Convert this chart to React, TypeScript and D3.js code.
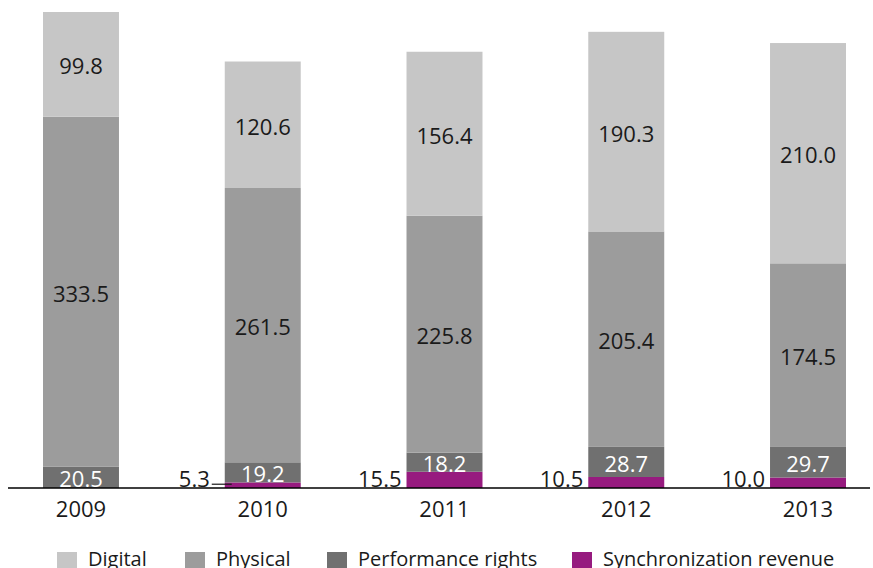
import React from "react";
import * as d3 from "d3";

const WIDTH = 873;
const HEIGHT = 568;
const BASE_Y = 488;
const TOP_Y = 12;

const years = ["2009", "2010", "2011", "2012", "2013"];
const sync = [0, 5.3, 15.5, 10.5, 10.0];
const performance = [20.5, 19.2, 18.2, 28.7, 29.7];
const physical = [333.5, 261.5, 225.8, 205.4, 174.5];
const digital = [99.8, 120.6, 156.4, 190.3, 210.0];

const seriesKeys = ["sync", "performance", "physical", "digital"];
const legendOrder = ["digital", "physical", "performance", "sync"];
const labels: Record<string, string> = {
  digital: "Digital",
  physical: "Physical",
  performance: "Performance rights",
  sync: "Synchronization revenue",
};
const colors: Record<string, string> = {
  digital: "#c6c6c6",
  physical: "#9c9c9c",
  performance: "#707070",
  sync: "#971b7f",
};
const legendX = [57, 185, 327, 572];

const FONT = "'Open Sans', sans-serif";

const App: React.FC = () => {
  const rows = years.map((year, i) => ({
    year,
    sync: sync[i],
    performance: performance[i],
    physical: physical[i],
    digital: digital[i],
  }));

  const stacked = d3.stack<any>().keys(seriesKeys)(rows);

  const x = d3
    .scaleBand()
    .domain(years)
    .range([43, 846])
    .paddingInner(0.582)
    .paddingOuter(0);

  const total = d3.max(rows, (d) => d.sync + d.performance + d.physical + d.digital)!;
  const y = d3.scaleLinear().domain([0, total]).range([BASE_Y, TOP_Y]);

  return (
    <svg
      width={WIDTH}
      height={HEIGHT}
      style={{ position: "absolute", left: 0, top: 0, background: "#fff" }}
      fontFamily={FONT}
    >
      {stacked.map((layer) => (
        <g key={layer.key} fill={colors[layer.key]}>
          {layer.map((d, i) => {
            const h = y(d[0]) - y(d[1]);
            if (h <= 0) return null;
            return (
              <rect
                key={years[i]}
                x={x(years[i])!}
                y={y(d[1])}
                width={x.bandwidth()}
                height={h}
              />
            );
          })}
        </g>
      ))}

      {/* labels inside segments */}
      {stacked
        .filter((layer) => layer.key !== "sync")
        .map((layer) => (
          <g key={layer.key + "-lbl"}>
            {layer.map((d, i) => (
              <text
                key={years[i]}
                x={x(years[i])! + x.bandwidth() / 2}
                y={(y(d[0]) + y(d[1])) / 2 + 1}
                textAnchor="middle"
                dominantBaseline="central"
                fontSize={22}
                fill={layer.key === "performance" ? "#fff" : "#1a1a1a"}
              >
                {(d[1] - d[0]).toFixed(1)}
              </text>
            ))}
          </g>
        ))}

      {/* synchronization labels beside the bars */}
      {sync.map((v, i) => {
        if (v <= 0) return null;
        const bx = x(years[i])!;
        const small = y(0) - y(v) < 8;
        return (
          <g key={"sync-" + years[i]}>
            <text
              x={small ? bx - 15 : bx - 5}
              y={BASE_Y - 1}
              textAnchor="end"
              fontSize={22}
              fill="#1a1a1a"
            >
              {v.toFixed(1)}
            </text>
            {small && (
              <line
                x1={bx - 13}
                x2={bx + 7}
                y1={y(v / 2) - 1}
                y2={y(v / 2) - 1}
                stroke="#1a1a1a"
                strokeWidth={1.2}
              />
            )}
          </g>
        );
      })}

      {/* axis baseline */}
      <line x1={8} x2={870} y1={BASE_Y} y2={BASE_Y} stroke="#000" strokeWidth={1.5} />

      {years.map((yr) => (
        <text
          key={"yr" + yr}
          x={x(yr)! + x.bandwidth() / 2}
          y={517}
          textAnchor="middle"
          fontSize={22}
          fill="#1a1a1a"
        >
          {yr}
        </text>
      ))}

      {/* legend */}
      {legendOrder.map((k, i) => (
        <g key={"lg" + k} transform={`translate(${legendX[i]}, 552)`}>
          <rect width={20} height={20} fill={colors[k]} />
          <text x={31} y={14} fontSize={20} fill="#1a1a1a">
            {labels[k]}
          </text>
        </g>
      ))}
    </svg>
  );
};

export default App;
